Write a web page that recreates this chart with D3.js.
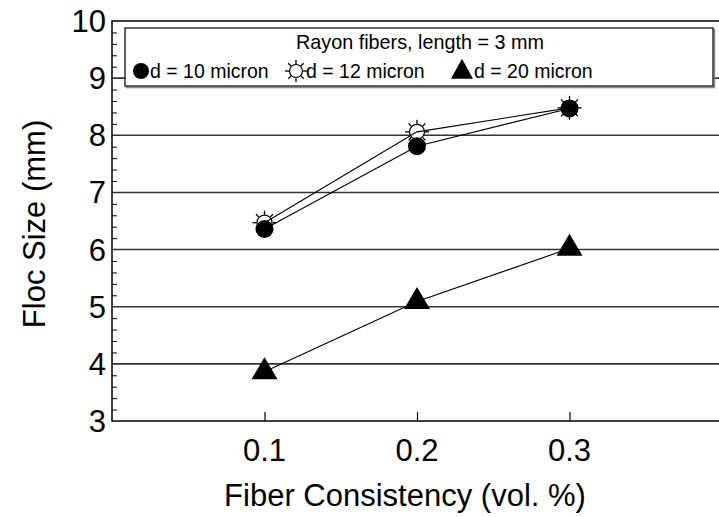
<!DOCTYPE html>
<html>
<head>
<meta charset="utf-8">
<script src="https://cdn.jsdelivr.net/npm/d3@7"></script>
<style>
  html, body { margin: 0; padding: 0; background: #fff; }
  svg { display: block; }
  text { font-family: "Liberation Sans", Arial, Helvetica, sans-serif; fill: #000; }
</style>
</head>
<body>
<svg id="chart" width="719" height="517"></svg>
<script>
// Fiber consistency (vol. %) on the x axis
const consistency = [0.1, 0.2, 0.3];

// Floc size (mm) for each fiber diameter
const floc10 = [6.36, 7.81, 8.47];
const floc12 = [6.47, 8.06, 8.48];
const floc20 = [3.86, 5.09, 6.02];

const seriesNames = ["d = 10 micron", "d = 12 micron", "d = 20 micron"];
const legendTitle = "Rayon fibers, length = 3 mm";

const xTicks = [0.1, 0.2, 0.3];
const yTicks = [3, 4, 5, 6, 7, 8, 9, 10];
const xTitle = "Fiber Consistency (vol. %)";
const yTitle = "Floc Size (mm)";

const svg = d3.select("#chart");

const x = d3.scaleLinear().domain([0, 0.4]).range([112, 722]);
const y = d3.scaleLinear().domain([3, 10]).range([421, 21]);
const x0 = x.range()[0], x1 = x.range()[1];
const yTop = y(10), yBot = y(3);

// horizontal grid at whole millimetres
svg.append("g")
  .selectAll("line")
  .data(yTicks.filter(v => v > 3 && v < 10))
  .join("line")
  .attr("x1", x0).attr("x2", x1)
  .attr("y1", d => y(d)).attr("y2", d => y(d))
  .attr("stroke", "#333").attr("stroke-width", 1.6);

// minor ticks every 0.2 mm on the inside of the left axis
const minor = d3.range(3.2, 10, 0.2).filter(v => Math.abs(v - Math.round(v)) > 1e-6);
svg.append("g")
  .attr("transform", `translate(${x0},0)`)
  .call(d3.axisRight(y).tickValues(minor).tickSize(5).tickFormat(""))
  .call(g => g.select(".domain").remove())
  .selectAll("line").attr("stroke", "#000").attr("stroke-width", 1);

// major x ticks pointing up from the bottom frame
svg.append("g")
  .attr("transform", `translate(0,${yBot})`)
  .call(d3.axisTop(x).tickValues(xTicks).tickSize(9).tickFormat(""))
  .call(g => g.select(".domain").remove())
  .selectAll("line").attr("stroke", "#000").attr("stroke-width", 1.2);

// frame: left, top, bottom
svg.append("path")
  .attr("d", `M${x1},${yTop}H${x0}V${yBot}H${x1}`)
  .attr("fill", "none").attr("stroke", "#000").attr("stroke-width", 1.5);

// tick labels
svg.append("g")
  .selectAll("text")
  .data(yTicks)
  .join("text")
  .attr("text-anchor", "end")
  .attr("font-size", 31)
  .attr("x", 106)
  .attr("y", d => y(d) + 11)
  .text(d => d);

svg.append("g")
  .selectAll("text")
  .data(xTicks)
  .join("text")
  .attr("text-anchor", "middle")
  .attr("font-size", 31)
  .attr("x", d => x(d))
  .attr("y", 461)
  .text(d => d3.format(".1f")(d));

// axis titles
svg.append("text")
  .attr("text-anchor", "middle")
  .attr("font-size", 31)
  .attr("x", 405).attr("y", 506)
  .text(xTitle);

svg.append("text")
  .attr("text-anchor", "middle")
  .attr("font-size", 31)
  .attr("transform", `translate(45,224) rotate(-90)`)
  .text(yTitle);

// marker shapes
function triPath(w, h) {
  return `M0,${-h * 2 / 3}L${w / 2},${h / 3}L${-w / 2},${h / 3}Z`;
}
function drawSun(g, r, rayIn, rayOut) {
  g.append("circle").attr("r", r).attr("fill", "#fff").attr("stroke", "#000").attr("stroke-width", 1.2);
  d3.range(8).forEach(i => {
    const a = i * Math.PI / 4;
    g.append("line")
      .attr("x1", rayIn * Math.cos(a)).attr("y1", rayIn * Math.sin(a))
      .attr("x2", rayOut * Math.cos(a)).attr("y2", rayOut * Math.sin(a))
      .attr("stroke", "#000").attr("stroke-width", 1.3);
  });
}

const line = d3.line().x((d, i) => x(consistency[i])).y(d => y(d));

// open markers (12 micron)
svg.append("g")
  .selectAll("g")
  .data(floc12)
  .join("g")
  .attr("transform", (d, i) => `translate(${x(consistency[i])},${y(d)})`)
  .each(function () { drawSun(d3.select(this), 7.5, 8, 12); });

// connecting lines
[floc12, floc10, floc20].forEach(s => {
  svg.append("path").attr("d", line(s))
    .attr("fill", "none").attr("stroke", "#000").attr("stroke-width", 1.1);
});

// filled circles (10 micron)
svg.append("g")
  .selectAll("circle")
  .data(floc10)
  .join("circle")
  .attr("cx", (d, i) => x(consistency[i]))
  .attr("cy", d => y(d))
  .attr("r", 9)
  .attr("fill", "#000");

// filled triangles (20 micron)
svg.append("g")
  .selectAll("path")
  .data(floc20)
  .join("path")
  .attr("transform", (d, i) => `translate(${x(consistency[i])},${y(d)})`)
  .attr("d", triPath(26, 22))
  .attr("fill", "#000");

// legend
const lg = svg.append("g");
lg.append("rect").attr("x", 126.5).attr("y", 29.5).attr("width", 588).attr("height", 58)
  .attr("fill", "none").attr("stroke", "#888").attr("stroke-width", 1.5);
lg.append("rect").attr("x", 125).attr("y", 28).attr("width", 588).attr("height", 58)
  .attr("fill", "#fff").attr("stroke", "#111").attr("stroke-width", 1.3);
lg.append("text").attr("x", 420).attr("y", 49).attr("text-anchor", "middle")
  .attr("font-size", 19.8).text(legendTitle);

const ly = 71;
lg.append("circle").attr("cx", 141).attr("cy", ly).attr("r", 8).attr("fill", "#000");
lg.append("text").attr("x", 150).attr("y", ly + 7).attr("font-size", 19.5).text(seriesNames[0]);
drawSun(lg.append("g").attr("transform", `translate(296,${ly})`), 6.5, 7, 11);
lg.append("text").attr("x", 306).attr("y", ly + 7).attr("font-size", 19.5).text(seriesNames[1]);
lg.append("path").attr("transform", `translate(462,${ly + 1})`).attr("d", triPath(22, 20)).attr("fill", "#000");
lg.append("text").attr("x", 474).attr("y", ly + 7).attr("font-size", 19.5).text(seriesNames[2]);
</script>
</body>
</html>
